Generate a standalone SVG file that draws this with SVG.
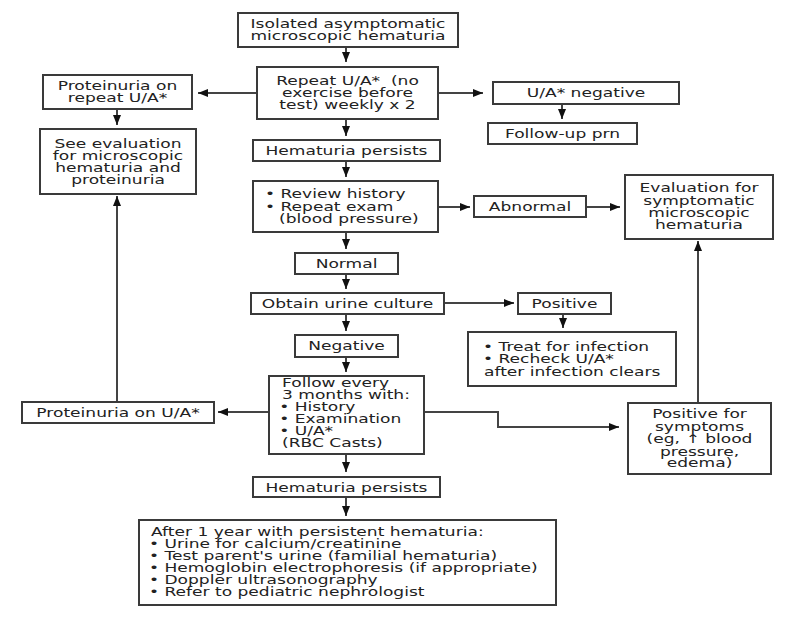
<svg xmlns="http://www.w3.org/2000/svg" width="794" height="618" viewBox="0 0 794 618">
<style>
.b{fill:#fff;stroke:#3a3a3a;stroke-width:2}
.t{font-family:"DejaVu Sans",Verdana,sans-serif;font-size:12.2px;fill:#222}
.c{fill:none;stroke:#444;stroke-width:2}
</style>
<defs>
<marker id="ah" viewBox="0 0 10 8" refX="10" refY="4" markerWidth="10" markerHeight="8" markerUnits="userSpaceOnUse" orient="auto"><path d="M0,0 L10,4 L0,8 z" fill="#111"/></marker>
</defs>
<rect width="794" height="618" fill="#fff"/>
<g id="connectors" class="c" marker-end="url(#ah)">
<path d="M346,47 V62"/>
<path d="M257,93 H198"/>
<path d="M438,93 H483"/>
<path d="M562,104 V119"/>
<path d="M117,109 V125"/>
<path d="M346,119 V136"/>
<path d="M346,161 V177"/>
<path d="M438,207 H470"/>
<path d="M586,207 H620"/>
<path d="M346,232 V249"/>
<path d="M346,274 V289"/>
<path d="M444,303 H514"/>
<path d="M563,314 V328"/>
<path d="M346,314 V331"/>
<path d="M346,357 V372"/>
<path d="M269,412 H218"/>
<path d="M117,402 V196"/>
<path d="M424,412 H498 V427 H619"/>
<path d="M698,403 V241"/>
<path d="M346,454 V472"/>
<path d="M346,497 V516"/>
</g>
<g id="n1"><rect class="b" x="238" y="13" width="220" height="34"/>
<text class="t" text-anchor="middle" transform="translate(348,0) scale(1.4,1)"><tspan x="0" y="28">Isolated asymptomatic</tspan><tspan x="0" y="40">microscopic hematuria</tspan></text></g>
<g id="n2"><rect class="b" x="257" y="67" width="181" height="52"/>
<text class="t" text-anchor="middle" style="white-space:pre" transform="translate(347.5,0) scale(1.4,1)"><tspan x="0" y="85">Repeat U/A*  (no</tspan><tspan x="0" y="97">exercise before</tspan><tspan x="0" y="109">test) weekly x 2</tspan></text></g>
<g id="n3"><rect class="b" x="43" y="75" width="149" height="34"/>
<text class="t" text-anchor="middle" transform="translate(117.5,0) scale(1.4,1)"><tspan x="0" y="90">Proteinuria on</tspan><tspan x="0" y="102">repeat U/A*</tspan></text></g>
<g id="n4"><rect class="b" x="493" y="82" width="186" height="22"/>
<text class="t" text-anchor="middle" transform="translate(586,0) scale(1.4,1)"><tspan x="0" y="97">U/A* negative</tspan></text></g>
<g id="n5"><rect class="b" x="488" y="123" width="149" height="21"/>
<text class="t" text-anchor="middle" transform="translate(562.5,0) scale(1.4,1)"><tspan x="0" y="138">Follow-up prn</tspan></text></g>
<g id="n6"><rect class="b" x="40" y="129" width="156" height="65"/>
<text class="t" text-anchor="middle" transform="translate(118,0) scale(1.4,1)"><tspan x="0" y="148">See evaluation</tspan><tspan x="0" y="160">for microscopic</tspan><tspan x="0" y="172">hematuria and</tspan><tspan x="0" y="184">proteinuria</tspan></text></g>
<g id="n7"><rect class="b" x="253" y="140" width="187" height="21"/>
<text class="t" text-anchor="middle" transform="translate(346.5,0) scale(1.4,1)"><tspan x="0" y="155">Hematuria persists</tspan></text></g>
<g id="n8"><rect class="b" x="253" y="181" width="185" height="51"/>
<text class="t" transform="translate(265,0) scale(1.4,1)"><tspan x="0" y="198">• Review history</tspan><tspan x="0" y="211">• Repeat exam</tspan><tspan x="10" y="223">(blood pressure)</tspan></text></g>
<g id="n9"><rect class="b" x="474" y="196" width="112" height="21"/>
<text class="t" text-anchor="middle" transform="translate(530,0) scale(1.4,1)"><tspan x="0" y="211">Abnormal</tspan></text></g>
<g id="n10"><rect class="b" x="625" y="175" width="148" height="64"/>
<text class="t" text-anchor="middle" transform="translate(699,0) scale(1.4,1)"><tspan x="0" y="192">Evaluation for</tspan><tspan x="0" y="205">symptomatic</tspan><tspan x="0" y="217">microscopic</tspan><tspan x="0" y="229">hematuria</tspan></text></g>
<g id="n11"><rect class="b" x="295" y="253" width="103" height="21"/>
<text class="t" text-anchor="middle" transform="translate(346.5,0) scale(1.4,1)"><tspan x="0" y="268">Normal</tspan></text></g>
<g id="n12"><rect class="b" x="251" y="293" width="193" height="21"/>
<text class="t" text-anchor="middle" transform="translate(347.5,0) scale(1.4,1)"><tspan x="0" y="308">Obtain urine culture</tspan></text></g>
<g id="n13"><rect class="b" x="518" y="293" width="93" height="21"/>
<text class="t" text-anchor="middle" transform="translate(564.5,0) scale(1.4,1)"><tspan x="0" y="308">Positive</tspan></text></g>
<g id="n14"><rect class="b" x="468" y="332" width="208" height="54"/>
<text class="t" transform="translate(483,0) scale(1.4,1)"><tspan x="0" y="351">• Treat for infection</tspan><tspan x="0" y="363">• Recheck U/A*</tspan><tspan x="0.7" y="376">after infection clears</tspan></text></g>
<g id="n15"><rect class="b" x="295" y="335" width="103" height="22"/>
<text class="t" text-anchor="middle" transform="translate(346.5,0) scale(1.4,1)"><tspan x="0" y="350">Negative</tspan></text></g>
<g id="n16"><rect class="b" x="269" y="376" width="155" height="78"/>
<text class="t" transform="translate(282,0) scale(1.4,1)"><tspan x="0" y="387">Follow every</tspan><tspan x="0" y="399">3 months with:</tspan><tspan x="-2" y="411">• History</tspan><tspan x="-2" y="423">• Examination</tspan><tspan x="-2" y="435">• U/A*</tspan><tspan x="0" y="447">(RBC Casts)</tspan></text></g>
<g id="n17"><rect class="b" x="22" y="402" width="192" height="21"/>
<text class="t" text-anchor="middle" transform="translate(118,0) scale(1.4,1)"><tspan x="0" y="417">Proteinuria on U/A*</tspan></text></g>
<g id="n18"><rect class="b" x="628" y="403" width="143" height="71"/>
<text class="t" text-anchor="middle" transform="translate(699.5,0) scale(1.4,1)"><tspan x="0" y="418">Positive for</tspan><tspan x="0" y="431">symptoms</tspan><tspan x="0" y="443">(eg, ↑ blood</tspan><tspan x="0" y="456">pressure,</tspan><tspan x="0" y="467">edema)</tspan></text></g>
<g id="n19"><rect class="b" x="253" y="477" width="187" height="20"/>
<text class="t" text-anchor="middle" transform="translate(346.5,0) scale(1.4,1)"><tspan x="0" y="492">Hematuria persists</tspan></text></g>
<g id="n20"><rect class="b" x="139" y="520" width="417" height="85"/>
<text class="t" transform="translate(151,0) scale(1.4,1)"><tspan x="0" y="536">After 1 year with persistent hematuria:</tspan><tspan x="-1.5" y="548">• Urine for calcium/creatinine</tspan><tspan x="-1.5" y="560">• Test parent's urine (familial hematuria)</tspan><tspan x="-1.5" y="572">• Hemoglobin electrophoresis (if appropriate)</tspan><tspan x="-1.5" y="584">• Doppler ultrasonography</tspan><tspan x="-1.5" y="596">• Refer to pediatric nephrologist</tspan></text></g>
</svg>
